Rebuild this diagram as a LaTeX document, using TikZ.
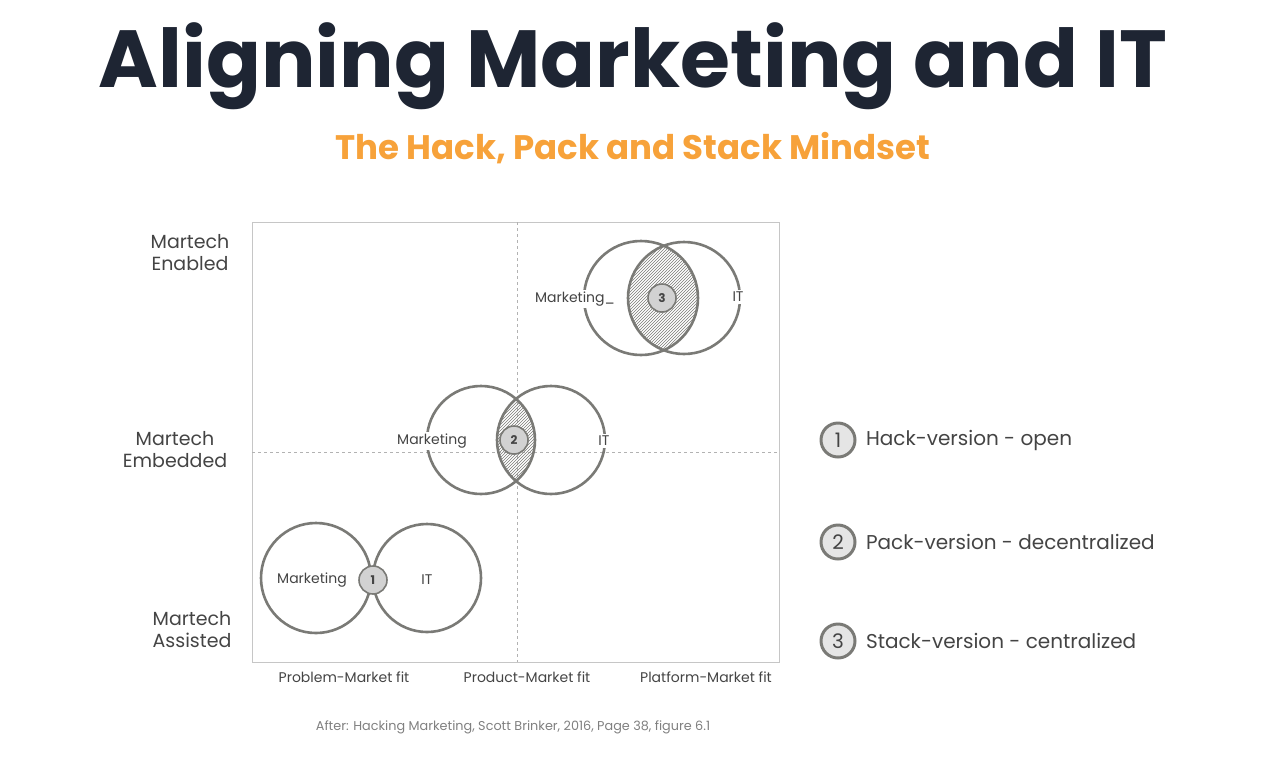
\documentclass[tikz,border=0pt]{standalone}
\usepackage{fontspec}
\setmainfont{Poppins}
\usetikzlibrary{positioning,patterns}
\definecolor{titleblue}{HTML}{1E2533}
\definecolor{accent}{HTML}{F7A23A}
\definecolor{ring}{HTML}{7A7A76}
\definecolor{txt}{HTML}{444444}
\begin{document}
\begin{tikzpicture}[
		x=1pt, y=-1pt,
		ring/.style = {draw=ring, line width=2.6pt},
		badge/.style = {draw=ring, circle, fill=gray!35, line width=1.6pt, inner sep=0pt, minimum size=28pt, font=\fontsize{12}{12}\selectfont\bfseries, text=txt},
		keybadge/.style = {draw=ring, circle, fill=gray!20, line width=3pt, inner sep=0pt, minimum size=34pt, font=\fontsize{20}{20}\selectfont, text=txt},
		lbl/.style = {fill=white, inner sep=2pt, font=\fontsize{14}{14}\selectfont, text=txt},
		axis/.style = {font=\fontsize{19}{22}\selectfont, text=txt, align=center},
		fit/.style = {font=\fontsize{14}{14}\selectfont, text=txt},
		keytext/.style = {font=\fontsize{20}{20}\selectfont, text=txt, anchor=west}
	]
	\useasboundingbox (0,0) rectangle (1266,772);
	% Titles.
	\node[font=\fontsize{81}{81}\selectfont\bfseries, text=titleblue] (title) at (633,66) {Aligning Marketing and IT};
	\node[font=\fontsize{34}{34}\selectfont\bfseries, text=accent] (sub) at (633,148) {The Hack, Pack and Stack Mindset};
	% Frame.
	\draw[gray!45, line width=1pt] (252,222) rectangle (779,662);
	\draw[gray!60, dashed, line width=0.8pt] (517,222) -- (517,662);
	\draw[gray!60, dashed, line width=0.8pt] (252,452) -- (779,452);
	% Axes.
	\node[axis] (enabled) at (190,253) {Martech\\Enabled};
	\node[axis] (embedded) at (175,450) {Martech\\Embedded};
	\node[axis] (assisted) at (192,630) {Martech\\Assisted};
	\node[fit] (problem) at (344,677) {Problem-Market fit};
	\node[fit] (product) at (527,677) {Product-Market fit};
	\node[fit] (platform) at (706,677) {Platform-Market fit};
	% Hatched overlaps.
	\begin{scope}
		\clip (481,440) circle (54);
		\fill[pattern=north east lines, pattern color=ring] (551,440) circle (54);
	\end{scope}
	\begin{scope}
		\clip (641,298) circle (57);
		\fill[pattern=north east lines, pattern color=ring] (684,298) circle (56);
	\end{scope}
	% Rings.
	\draw[ring] (316,578) circle (55);
	\draw[ring] (427,578) circle (54);
	\draw[ring] (481,440) circle (54);
	\draw[ring] (551,440) circle (54);
	\draw[ring] (641,298) circle (57);
	\draw[ring] (684,298) circle (56);
	% Ring labels.
	\node[lbl] (mkt1) at (312,580) {Marketing};
	\node[lbl] (it1) at (427,580) {IT};
	\node[lbl] (mkt2) at (432,441) {Marketing};
	\node[lbl] (it2) at (604,441) {IT};
	\node[lbl] (mkt3) at (575,299) {Marketing\_};
	\node[lbl] (it3) at (738,297) {IT};
	\node[badge] (b1) at (373,580) {1};
	\node[badge] (b2) at (514,440) {2};
	\node[badge] (b3) at (662,298) {3};
	% Key.
	\node[keybadge] (k1) at (838,440) {1};
	\node[keybadge] (k2) at (838,542) {2};
	\node[keybadge] (k3) at (838,641) {3};
	\node[keytext, right=6pt of k1] (t1) {Hack-version - open};
	\node[keytext, right=6pt of k2] (t2) {Pack-version - decentralized};
	\node[keytext, right=6pt of k3] (t3) {Stack-version - centralized};
	% Source.
	\node[font=\fontsize{12.8}{13}\selectfont, text=gray] (src) at (513,727) {After: Hacking Marketing, Scott Brinker, 2016, Page 38, figure 6.1};
\end{tikzpicture}
\end{document}
